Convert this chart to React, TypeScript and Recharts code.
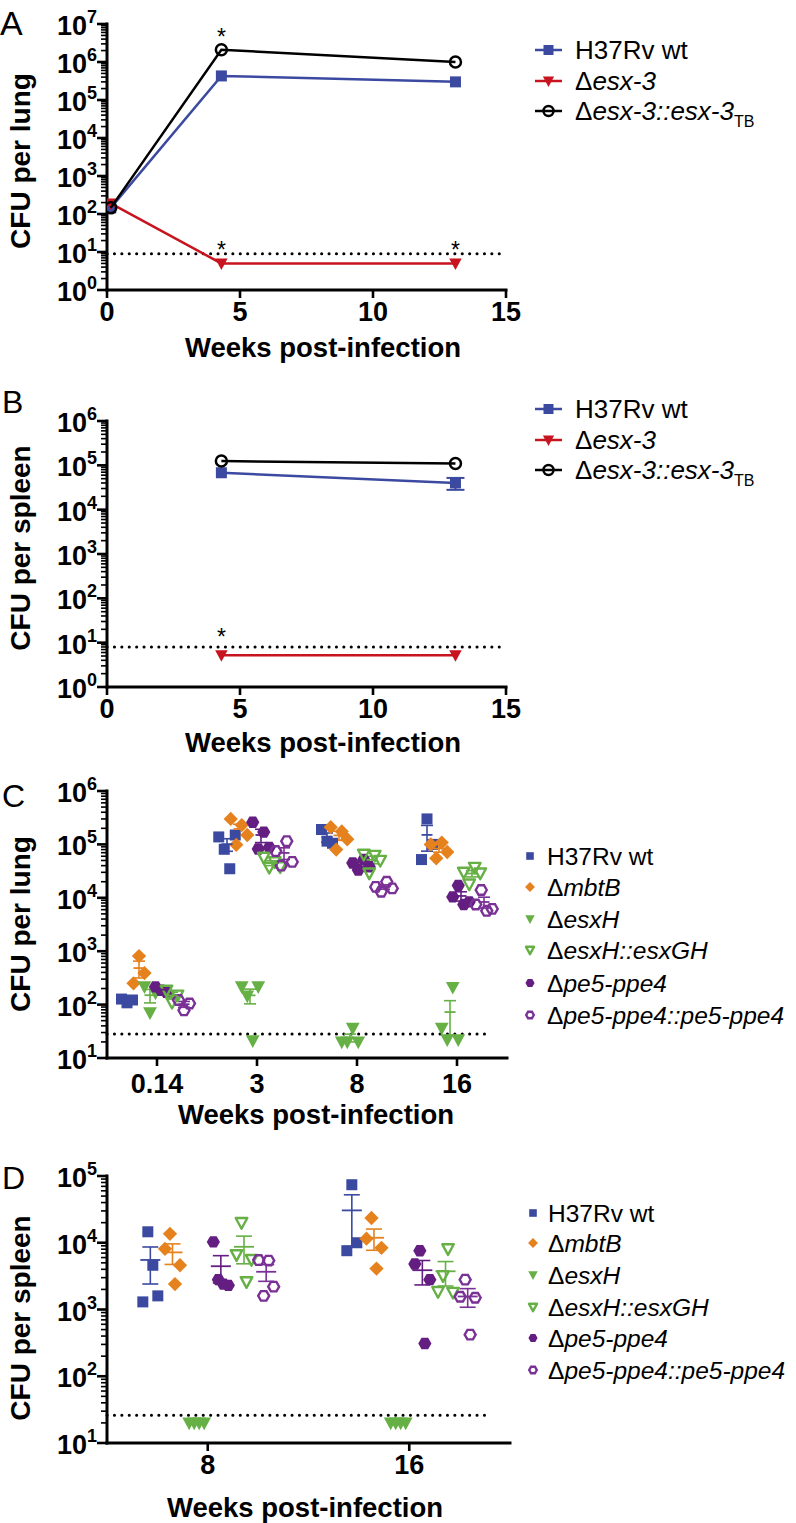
import React from "react";
import { ScatterChart, Scatter, XAxis, YAxis, ReferenceLine, ErrorBar } from "recharts";

// ── Fonts / palette ──────────────────────────────────────────────────────────
const FONT = "'Liberation Sans', Arial, Helvetica, sans-serif";
const BLUE = "#3b4aa0";
const RED = "#c8141e";
const ORANGE = "#e5821e";
const GREEN = "#66b046";
const PURPLE = "#641e82";
const PURPLE_OPEN = "#7a3196";

// ── Panel A: CFU per lung, time course ───────────────────────────────────────
const A_WEEKS = [0.14, 4.3, 13.1];
const A_WT = [145, 430000, 300000];
const A_ESX3 = [190, 5, 5];
const A_COMP = [145, 2100000, 1000000];
const A_LOD = 9;
const A_STAR_WEEKS = [4.3, 4.3, 13.1];
const A_STAR_VALUES = [2100000, 5, 5];

// ── Panel B: CFU per spleen, time course ─────────────────────────────────────
const B_WEEKS = [4.3, 13.1];
const B_WT = [68000, 40000];
const B_WT_SEM = [0, 12000];
const B_ESX3 = [5.2, 5.2];
const B_COMP = [125000, 110000];
const B_LOD = 8;
const B_STAR_WEEKS = [4.3];
const B_STAR_VALUES = [5.2];

const TIME_TICKS = [0, 5, 10, 15];

// ── Panel C: CFU per lung, per mouse ─────────────────────────────────────────
const C_WEEKS = ["0.14", "3", "8", "16"];
const C_WT = [[127, 108, 122], [138000, 81000, 35000, 150000], [190000, 115000, 105000], [52000, 300000, 100000]];
const C_MBTB = [[250, 810, 390], [300000, 98000, 230000, 150000], [210000, 80000, 175000, 125000], [100000, 55000, 108000, 72000]];
const C_ESXH = [[215, 70, 165], [215, 145, 21, 215], [20, 20, 36, 20], [36, 22, 210, 22]];
const C_PE5 = [[215, 185, 170], [260000, 82000, 170000, 88000], [45000, 33000, 52000, 38000], [10400, 17000, 7500, 8400]];
const C_ESXGH = [[185, 110, 150], [57000, 37000, 47000, 38000], [65000, 29000, 62000, 50000], [30000, 18000, 37000, 29000]];
const C_PE5COMP = [[122, 78, 105], [75000, 40000, 115000, 47000], [16000, 13000, 20000, 15000], [7500, 14000, 5700, 6200]];
const C_LOD = 28;

// ── Panel D: CFU per spleen, per mouse ───────────────────────────────────────
const D_WEEKS = ["8", "16"];
const D_WT = [[1300, 14600, 4600, 1600], [7600, 74000, 10000]];
const D_MBTB = [[8100, 13600, 2400, 4600], [11500, 23500, 4100, 8400]];
const D_ESXH = [[20, 20, 20, 20], [20, 20, 20, 20]];
const D_PE5 = [[10300, 2800, 2400, 2300], [4800, 7600, 310, 2800]];
const D_ESXGH = [[6600, 20000, 2600, 5600], [1850, 3200, 8100, 1800]];
const D_PE5COMP = [[5500, 1600, 5400, 2200], [1550, 2800, 420, 1500]];
const D_LOD = 26;

// ── Markers ──────────────────────────────────────────────────────────────────
type Kind = "square" | "diamond" | "tri" | "triOpen" | "hex" | "hexOpen" | "circleOpen";

function Marker({ kind, cx, cy, color, s = 5.5 }: { kind: Kind; cx: number; cy: number; color: string; s?: number }) {
  if (cx == null || cy == null) return null;
  switch (kind) {
    case "square":
      return <rect x={cx - s} y={cy - s} width={2 * s} height={2 * s} fill={color} />;
    case "diamond": {
      const d = s * 1.3;
      return <polygon points={`${cx},${cy - d} ${cx + d},${cy} ${cx},${cy + d} ${cx - d},${cy}`} fill={color} />;
    }
    case "tri":
    case "triOpen": {
      const k = kind === "tri" ? 1.25 : 1.05;
      const pts = `${cx - s * k},${cy - s * k * 0.8} ${cx + s * k},${cy - s * k * 0.8} ${cx},${cy + s * k * 1.05}`;
      return kind === "tri" ? (
        <polygon points={pts} fill={color} />
      ) : (
        <polygon points={pts} fill="none" stroke={color} strokeWidth={2.4} strokeLinejoin="round" />
      );
    }
    case "hex":
    case "hexOpen": {
      const r = kind === "hex" ? s * 1.2 : s * 1.0;
      const pts = [0, 1, 2, 3, 4, 5]
        .map((i) => `${cx + r * Math.cos((i * Math.PI) / 3)},${cy + r * Math.sin((i * Math.PI) / 3)}`)
        .join(" ");
      return kind === "hex" ? (
        <polygon points={pts} fill={color} />
      ) : (
        <polygon points={pts} fill="none" stroke={color} strokeWidth={2.4} />
      );
    }
    case "circleOpen":
      return <circle cx={cx} cy={cy} r={s} fill="none" stroke={color} strokeWidth={2.5} />;
  }
  return null;
}

const shapeOf = (kind: Kind, color: string, s?: number) => (p: any) => (
  <Marker kind={kind} cx={p.cx} cy={p.cy} color={color} s={s} />
);

// ── Axis helpers ─────────────────────────────────────────────────────────────
function logTicks(minExp: number, maxExp: number) {
  const t: number[] = [];
  for (let e = minExp; e < maxExp; e++) for (let k = 1; k <= 9; k++) t.push(k * Math.pow(10, e));
  t.push(Math.pow(10, maxExp));
  return t;
}

const LogTick = (props: any) => {
  const { x, y, payload } = props;
  const lg = Math.log10(payload.value);
  const e = Math.round(lg);
  const major = Math.abs(lg - e) < 1e-6;
  return (
    <g>
      <line x1={x} x2={x - (major ? 10 : 6)} y1={y} y2={y} stroke="#000" strokeWidth={major ? 2.6 : 1.6} />
      {major && (
        <text x={x - 10} y={y + 11} textAnchor="end" fontFamily={FONT} fontWeight="bold" fontSize={27} fill="#000">
          10
          <tspan dy={-12} fontSize={18}>
            {e}
          </tspan>
        </text>
      )}
    </g>
  );
};

const xTick = (dy: number, labels?: string[]) => (props: any) => {
  const { x, y, payload } = props;
  const label = labels ? labels[Math.round(payload.value) - 1] : String(payload.value);
  return (
    <g>
      <line x1={x} x2={x} y1={y} y2={y + 8} stroke="#000" strokeWidth={2.6} />
      <text x={x} y={y + dy} textAnchor="middle" fontFamily={FONT} fontWeight="bold" fontSize={27} fill="#000">
        {label}
      </text>
    </g>
  );
};

const AXIS_LINE = { stroke: "#000", strokeWidth: 3, strokeLinecap: "square" as const };

const starShape = (lift: number) => (p: any) => (
  <text x={p.cx} y={p.cy - lift} textAnchor="middle" fontFamily={FONT} fontSize={23} fill="#000">
    *
  </text>
);

const pts = (xs: number[], ys: number[], errs?: number[]) =>
  xs.map((x, i) => ({ x, y: ys[i], err: errs ? errs[i] : 0 }));

// ── Panels A / B ─────────────────────────────────────────────────────────────
function TimePanel({
  top, marginTop, maxExp, weeks, wt, wtSem, esx3, comp, lod, starWeeks, starValues, starLift, tickDy,
}: any) {
  const plotH = 266;
  const xH = 45;
  return (
    <div style={{ position: "absolute", left: 0, top }}>
      <ScatterChart width={540} height={marginTop + plotH + xH} margin={{ top: marginTop, right: 34, left: 0, bottom: 0 }}>
        <XAxis
          type="number" dataKey="x" domain={[0, 15]} ticks={TIME_TICKS} interval={0}
          height={xH} axisLine={AXIS_LINE} tickLine={false} tickSize={0} tickMargin={0}
          tick={xTick(tickDy)} allowDataOverflow
        />
        <YAxis
          type="number" dataKey="y" scale="log" domain={[1, Math.pow(10, maxExp)]} ticks={logTicks(0, maxExp)}
          interval={0} width={107} axisLine={AXIS_LINE} tickLine={false} tickSize={0} tickMargin={0}
          tick={LogTick} allowDataOverflow
        />
        <ReferenceLine y={lod} stroke="#000" strokeWidth={3} strokeDasharray="0.1 7.3" strokeLinecap="round" />
        <Scatter data={pts(weeks, wt, wtSem)} line={{ stroke: BLUE, strokeWidth: 2.5 }} shape={shapeOf("square", BLUE, 5.5)} isAnimationActive={false}>
          {wtSem && <ErrorBar dataKey="err" direction="y" width={9} stroke={BLUE} strokeWidth={2} />}
        </Scatter>
        <Scatter data={pts(weeks, esx3)} line={{ stroke: RED, strokeWidth: 2.5 }} shape={shapeOf("tri", RED, 5)} isAnimationActive={false} />
        <Scatter data={pts(weeks, comp)} line={{ stroke: "#000", strokeWidth: 2.5 }} shape={shapeOf("circleOpen", "#000", 5.5)} isAnimationActive={false} />
        <Scatter data={pts(starWeeks, starValues)} shape={starShape(starLift)} isAnimationActive={false} />
      </ScatterChart>
    </div>
  );
}

// ── Panels C / D ─────────────────────────────────────────────────────────────
type Group = { values: number[][]; kind: Kind; color: string };

function groupPoints(values: number[][], offset: number, step: number) {
  const out: { x: number; y: number }[] = [];
  values.forEach((vals, ci) =>
    vals.forEach((v, i) => out.push({ x: ci + 1 + offset + (i - (vals.length - 1) / 2) * step, y: v }))
  );
  return out;
}

function groupMeans(values: number[][], offset: number) {
  return values
    .map((vals, ci) => {
      const n = vals.length;
      const m = vals.reduce((a, b) => a + b, 0) / n;
      const sd = Math.sqrt(vals.reduce((a, b) => a + (b - m) * (b - m), 0) / (n - 1));
      return { x: ci + 1 + offset, y: m, err: sd / Math.sqrt(n) };
    })
    .filter((d) => d.err > 0);
}

function GroupPanel({
  top, marginTop, marginRight, minExp, maxExp, cats, groups, offsets, stepPx, lod, lodEnd, meanW, capW, tickDy,
}: any) {
  const plotH = 267;
  const xH = 45;
  const width = 540;
  const bandPx = (width - 107 - marginRight) / cats.length;
  const step = stepPx / bandPx;
  return (
    <div style={{ position: "absolute", left: 0, top }}>
      <ScatterChart width={width} height={marginTop + plotH + xH} margin={{ top: marginTop, right: marginRight, left: 0, bottom: 0 }}>
        <XAxis
          type="number" dataKey="x" domain={[0.5, cats.length + 0.5]} ticks={cats.map((_: string, i: number) => i + 1)}
          interval={0} height={xH} axisLine={AXIS_LINE} tickLine={false} tickSize={0} tickMargin={0}
          tick={xTick(tickDy, cats)} allowDataOverflow
        />
        <YAxis
          type="number" dataKey="y" scale="log" domain={[Math.pow(10, minExp), Math.pow(10, maxExp)]}
          ticks={logTicks(minExp, maxExp)} interval={0} width={107} axisLine={AXIS_LINE} tickLine={false}
          tickSize={0} tickMargin={0} tick={LogTick} allowDataOverflow
        />
        <ReferenceLine
          segment={[{ x: 0.5, y: lod }, { x: lodEnd, y: lod }]}
          stroke="#000" strokeWidth={3} strokeDasharray="0.1 7.3" strokeLinecap="round"
        />
        {groups.map((g: Group, gi: number) => (
          <Scatter
            key={`pts${gi}`} data={groupPoints(g.values, offsets[gi], step)}
            shape={shapeOf(g.kind, g.color, 5.5)} isAnimationActive={false}
          />
        ))}
        {groups.map((g: Group, gi: number) => (
          <Scatter
            key={`mean${gi}`} data={groupMeans(g.values, offsets[gi])} isAnimationActive={false}
            shape={(p: any) => (
              <line x1={p.cx - meanW / 2} x2={p.cx + meanW / 2} y1={p.cy} y2={p.cy} stroke={g.color} strokeWidth={1.8} />
            )}
          >
            <ErrorBar dataKey="err" direction="y" width={capW} stroke={g.color} strokeWidth={1.6} />
          </Scatter>
        ))}
      </ScatterChart>
    </div>
  );
}

// Draw order (left to right inside each week): wt, mbtB, esxH, pe5-ppe4, esxGH, complement
const C_GROUPS: Group[] = [
  { values: C_WT, kind: "square", color: BLUE },
  { values: C_MBTB, kind: "diamond", color: ORANGE },
  { values: C_ESXH, kind: "tri", color: GREEN },
  { values: C_PE5, kind: "hex", color: PURPLE },
  { values: C_ESXGH, kind: "triOpen", color: GREEN },
  { values: C_PE5COMP, kind: "hexOpen", color: PURPLE_OPEN },
];
const D_GROUPS: Group[] = [
  { values: D_WT, kind: "square", color: BLUE },
  { values: D_MBTB, kind: "diamond", color: ORANGE },
  { values: D_ESXH, kind: "tri", color: GREEN },
  { values: D_PE5, kind: "hex", color: PURPLE },
  { values: D_ESXGH, kind: "triOpen", color: GREEN },
  { values: D_PE5COMP, kind: "hexOpen", color: PURPLE_OPEN },
];

// ── Overlay text: panel letters, axis titles, legends ───────────────────────
const T = { fontFamily: FONT, fill: "#000" };
const Italic = ({ children }: any) => <tspan fontStyle="italic">{children}</tspan>;

const LEG_AB = [
  { kind: "square" as Kind, color: BLUE, label: <>H37Rv wt</> },
  { kind: "tri" as Kind, color: RED, label: <>Δ<Italic>esx-3</Italic></> },
  {
    kind: "circleOpen" as Kind, color: "#000",
    label: <>Δ<Italic>esx-3::esx-3</Italic><tspan fontSize={16} dy={7}>TB</tspan></>,
  },
];
const LEG_CD = [
  { kind: "square" as Kind, color: BLUE, label: <>H37Rv wt</> },
  { kind: "diamond" as Kind, color: ORANGE, label: <>Δ<Italic>mbtB</Italic></> },
  { kind: "tri" as Kind, color: GREEN, label: <>Δ<Italic>esxH</Italic></> },
  { kind: "triOpen" as Kind, color: GREEN, label: <>Δ<Italic>esxH::esxGH</Italic></> },
  { kind: "hex" as Kind, color: PURPLE, label: <>Δ<Italic>pe5-ppe4</Italic></> },
  { kind: "hexOpen" as Kind, color: PURPLE_OPEN, label: <>Δ<Italic>pe5-ppe4::pe5-ppe4</Italic></> },
];

function LineLegend({ rows }: { rows: number[] }) {
  return (
    <g>
      {LEG_AB.map((e, i) => (
        <g key={i}>
          <line x1={535} x2={562} y1={rows[i]} y2={rows[i]} stroke={e.color} strokeWidth={2.5} />
          <Marker kind={e.kind} cx={548.5} cy={rows[i]} color={e.color} s={e.kind === "tri" ? 4.5 : 5} />
          <text x={575} y={rows[i] + 9} fontSize={26} {...T}>
            {e.label}
          </text>
        </g>
      ))}
    </g>
  );
}

function DotLegend({ mx, tx, rows }: { mx: number; tx: number; rows: number[] }) {
  return (
    <g>
      {LEG_CD.map((e, i) => (
        <g key={i}>
          <Marker kind={e.kind} cx={mx} cy={rows[i]} color={e.color} s={3.8} />
          <text x={tx} y={rows[i] + 9} fontSize={24.5} {...T}>
            {e.label}
          </text>
        </g>
      ))}
    </g>
  );
}

const YTitle = ({ cy, text }: { cy: number; text: string }) => (
  <text transform={`translate(30,${cy}) rotate(-90)`} textAnchor="middle" fontSize={28} fontWeight="bold" {...T}>
    {text}
  </text>
);
const XTitle = ({ x, y }: { x: number; y: number }) => (
  <text x={x} y={y} fontSize={27.5} fontWeight="bold" {...T}>
    Weeks post-infection
  </text>
);

function Overlay() {
  return (
    <svg width={796} height={1523} style={{ position: "absolute", left: 0, top: 0, pointerEvents: "none" }}>
      <text x={0} y={35} fontSize={34} {...T}>A</text>
      <text x={2} y={413} fontSize={32} {...T}>B</text>
      <text x={2} y={807} fontSize={32} {...T}>C</text>
      <text x={2} y={1189} fontSize={32} {...T}>D</text>

      <YTitle cy={161} text="CFU per lung" />
      <YTitle cy={548} text="CFU per spleen" />
      <YTitle cy={924} text="CFU per lung" />
      <YTitle cy={1318} text="CFU per spleen" />

      <XTitle x={185} y={357} />
      <XTitle x={185} y={752} />
      <XTitle x={178} y={1124} />
      <XTitle x={167} y={1517} />

      <LineLegend rows={[50, 81, 111]} />
      <LineLegend rows={[409, 440, 470]} />
      <DotLegend mx={530} tx={547} rows={[856, 887, 919, 950, 983, 1015]} />
      <DotLegend mx={533} tx={548} rows={[1213, 1243, 1275, 1307, 1338, 1370]} />
    </svg>
  );
}

export default function App() {
  return (
    <div style={{ position: "absolute", left: 0, top: 0, width: 796, height: 1523, background: "#fff", overflow: "hidden" }}>
      <TimePanel
        top={0} marginTop={24} maxExp={7} weeks={A_WEEKS} wt={A_WT} esx3={A_ESX3} comp={A_COMP} lod={A_LOD}
        starWeeks={A_STAR_WEEKS} starValues={A_STAR_VALUES} starLift={5} tickDy={31}
      />
      <TimePanel
        top={390} marginTop={31} maxExp={6} weeks={B_WEEKS} wt={B_WT} wtSem={B_WT_SEM} esx3={B_ESX3} comp={B_COMP}
        lod={B_LOD} starWeeks={B_STAR_WEEKS} starValues={B_STAR_VALUES} starLift={10} tickDy={31}
      />
      <GroupPanel
        top={770} marginTop={21} marginRight={33} minExp={1} maxExp={6} cats={C_WEEKS} groups={C_GROUPS}
        offsets={[-0.3, -0.18, -0.07, 0.04, 0.15, 0.27]} stepPx={5.5} lod={C_LOD} lodEnd={4.3}
        meanW={11} capW={6} tickDy={35}
      />
      <GroupPanel
        top={1150} marginTop={26} marginRight={30} minExp={1} maxExp={5} cats={D_WEEKS} groups={D_GROUPS}
        offsets={[-0.285, -0.175, -0.055, 0.065, 0.18, 0.29]} stepPx={5} lod={D_LOD} lodEnd={2.39}
        meanW={20} capW={8} tickDy={31}
      />
      <Overlay />
    </div>
  );
}
